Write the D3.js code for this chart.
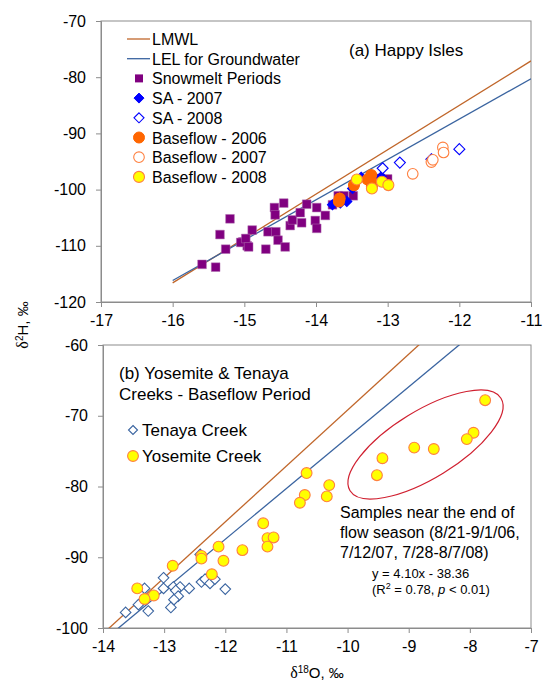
<!DOCTYPE html>
<html>
<head>
<meta charset="utf-8">
<script src="https://cdn.jsdelivr.net/npm/d3@7"></script>
<style>
  html, body { margin: 0; padding: 0; background: #fff; }
  svg { display: block; font-family: "Liberation Sans", Arial, sans-serif; }
</style>
</head>
<body>
<svg id="chart" width="544" height="684"></svg>
<script>
// ---- Panel (a): Happy Isles ----
const xTicksA = [-17, -16, -15, -14, -13, -12, -11];
const yTicksA = [-120, -110, -100, -90, -80, -70];

// meteoric water line and evaporation line: [slope, intercept]
const lmwlCoef = [7.9, 9.8];
const lelCoef = [7.18, -1.3];
const lineRangeA = [-16, -11];

const snowmeltO = [-15.59, -15.40, -15.20, -15.34, -15.26, -15.02, -14.96, -14.89, -15.05, -14.98, -14.94, -14.70, -14.67, -14.56, -14.53, -14.43, -14.58, -14.57, -14.45, -14.36, -14.33, -14.20, -14.22, -14.13, -13.99, -14.01, -13.99, -13.87, -13.77, -13.69, -13.61, -13.48, -13.00, -13.10];
const snowmeltH = [-113.3, -113.8, -105.2, -108.0, -110.6, -109.3, -110.0, -107.2, -109.4, -108.7, -110.2, -110.6, -107.5, -107.5, -109.0, -110.2, -103.2, -104.5, -102.4, -106.4, -105.4, -105.9, -104.1, -102.6, -103.2, -105.5, -106.9, -104.6, -102.7, -101.1, -101.1, -101.1, -98.1, -98.0];

const sa2007O = [-13.77, -13.66, -13.57, -13.49, -13.37, -13.09];
const sa2007H = [-102.7, -102.4, -102.1, -99.8, -97.8, -97.7];

const sa2008O = [-13.07, -12.83, -12.39, -12.00];
const sa2008H = [-96.2, -95.2, -94.6, -92.8];

const base2006O = [-13.67, -13.68, -13.47, -13.23, -13.23, -13.22, -13.28];
const base2006H = [-101.6, -102.1, -99.2, -97.4, -98.6, -99.4, -98.2];

const base2007O = [-12.65, -12.39, -12.37, -12.23, -12.22];
const base2007H = [-97.2, -95.1, -94.7, -92.5, -93.4];

const base2008O = [-13.43, -13.22, -13.08, -12.99];
const base2008H = [-98.2, -99.8, -98.6, -99.2];

// ---- Panel (b): Yosemite & Tenaya Creeks ----
const xTicksB = [-14, -13, -12, -11, -10, -9, -8, -7];
const yTicksB = [-100, -90, -80, -70, -60];
const lineRangeB = [-14.5, -7];

const tenayaO = [-13.01, -13.32, -13.01, -12.85, -12.74, -12.59, -12.81, -12.77, -12.84, -12.89, -13.26, -13.42, -13.63, -12.41, -12.39, -12.33, -12.25, -12.17, -12.00];
const tenayaH = [-92.9, -94.4, -94.4, -94.2, -94.2, -94.4, -94.7, -95.5, -96.0, -97.1, -97.6, -96.7, -97.8, -89.6, -93.5, -93.1, -93.7, -93.1, -94.5];

const yosemiteO = [-7.75, -7.94, -8.05, -8.59, -8.91, -9.43, -9.52, -10.67, -10.30, -10.70, -10.34, -10.78, -11.38, -11.31, -11.21, -11.31, -11.72, -12.11, -12.03, -12.39, -12.39, -12.22, -12.86, -13.44, -13.17, -13.32];
const yosemiteH = [-67.8, -72.4, -73.3, -74.7, -74.5, -76.0, -78.4, -78.1, -79.8, -81.2, -81.4, -82.3, -85.2, -87.3, -87.2, -88.5, -89.0, -88.5, -90.5, -89.8, -90.2, -92.4, -91.2, -94.4, -95.4, -95.9];

const legendA = ["LMWL", "LEL for Groundwater", "Snowmelt Periods", "SA - 2007", "SA - 2008", "Baseflow - 2006", "Baseflow - 2007", "Baseflow - 2008"];
const legendB = ["Tenaya Creek", "Yosemite Creek"];
const noteLines = ["Samples near the end of", "flow season (8/21-9/1/06,", "7/12/07, 7/28-8/7/08)"];
const fitText = "y = 4.10x - 38.36";

const C = {
  axis: "#8c8c8c",
  lmwl: "#c0662a",
  lel: "#3a64a0",
  purple: "#800080",
  blue: "#0000ff",
  orange: "#ff6600",
  orangeLine: "#ff8040",
  yellow: "#ffff00",
  tenaya: "#3a64a0",
  ellipse: "#d02030"
};

const svg = d3.select("#chart");
const zip = (a, b) => a.map((v, i) => [v, b[i]]);
const plain = d => String(d);   // hyphen-minus labels

function panel(id, box, xDom, yDom, xTicks, yTicks) {
  const x = d3.scaleLinear().domain(xDom).range([box.l, box.r]);
  const y = d3.scaleLinear().domain(yDom).range([box.b, box.t]);
  const g = svg.append("g");
  g.append("clipPath").attr("id", id)
    .append("rect").attr("x", box.l).attr("y", box.t)
    .attr("width", box.r - box.l).attr("height", box.b - box.t);
  // frame
  g.append("rect").attr("x", box.l).attr("y", box.t)
    .attr("width", box.r - box.l).attr("height", box.b - box.t)
    .attr("fill", "none").attr("stroke", C.axis).attr("stroke-width", 1);
  const xa = g.append("g").attr("transform", `translate(0,${box.b})`)
    .call(d3.axisBottom(x).tickValues(xTicks).tickSize(5).tickPadding(8).tickFormat(plain));
  const ya = g.append("g").attr("transform", `translate(${box.l},0)`)
    .call(d3.axisLeft(y).tickValues(yTicks).tickSize(5).tickPadding(10).tickFormat(plain));
  [xa, ya].forEach(a => {
    a.select(".domain").attr("stroke", C.axis);
    a.selectAll(".tick line").attr("stroke", C.axis);
    a.selectAll(".tick text").attr("fill", "#000").style("font-size", "16px")
      .style("font-family", "'Liberation Sans', Arial, sans-serif");
  });
  const plot = g.append("g").attr("clip-path", `url(#${id})`);
  return { x, y, g, plot };
}

function drawLine(p, coef, range, color) {
  const pts = range.map(v => [v, coef[0] * v + coef[1]]);
  p.plot.append("path")
    .attr("d", d3.line().x(d => p.x(d[0])).y(d => p.y(d[1]))(pts))
    .attr("fill", "none").attr("stroke", color).attr("stroke-width", 1.3);
}

// rotated-square marker path of half-diagonal r
const diamondPath = r => `M0,${-r}L${r},0L0,${r}L${-r},0Z`;
const squarePath = d3.symbol().type(d3.symbolSquare).size(76)();

function squares(p, xs, ys) {
  p.plot.append("g").selectAll("path").data(zip(xs, ys)).join("path")
    .attr("d", squarePath)
    .attr("transform", d => `translate(${p.x(d[0])},${p.y(d[1])})`)
    .attr("fill", C.purple).attr("stroke", "#b070b0").attr("stroke-width", 0.5);
}
function diamonds(p, xs, ys, fill, stroke, r) {
  p.plot.append("g").selectAll("path").data(zip(xs, ys)).join("path")
    .attr("d", diamondPath(r))
    .attr("transform", d => `translate(${p.x(d[0])},${p.y(d[1])})`)
    .attr("fill", fill).attr("stroke", stroke).attr("stroke-width", 1.1);
}
function circles(p, xs, ys, fill, stroke, r) {
  p.plot.append("g").selectAll("circle").data(zip(xs, ys)).join("circle")
    .attr("cx", d => p.x(d[0])).attr("cy", d => p.y(d[1]))
    .attr("r", r).attr("fill", fill).attr("stroke", stroke).attr("stroke-width", 1.1);
}

// ---- draw panel (a) ----
const pa = panel("clipA", { l: 101, r: 531, t: 21, b: 302 }, [-17, -11], [-120, -70], xTicksA, yTicksA);
drawLine(pa, lmwlCoef, lineRangeA, C.lmwl);
drawLine(pa, lelCoef, lineRangeA, C.lel);
squares(pa, snowmeltO, snowmeltH);
diamonds(pa, sa2007O, sa2007H, C.blue, C.blue, 5);
diamonds(pa, sa2008O, sa2008H, "#fff", C.blue, 5.5);
circles(pa, base2007O, base2007H, "#fff", C.orangeLine, 5.3);
circles(pa, base2006O, base2006H, C.orange, C.orange, 5.5);
circles(pa, base2008O, base2008H, C.yellow, C.orangeLine, 5.5);

pa.g.append("text").attr("x", 349).attr("y", 56).text("(a) Happy Isles")
  .style("font-size", "17px").attr("fill", "#000");

// legend (a)
const legA = pa.g.append("g");
const lx = 139, ltx = 152, ly0 = 39, ldy = 19.7;
legendA.forEach((name, i) => {
  const cy = ly0 + i * ldy;
  legA.append("text").attr("x", ltx).attr("y", cy + 6).text(name)
    .style("font-size", "16px").attr("fill", "#000");
});
legA.append("line").attr("x1", 127).attr("x2", 150).attr("y1", ly0).attr("y2", ly0).attr("stroke", C.lmwl).attr("stroke-width", 1.3);
legA.append("line").attr("x1", 127).attr("x2", 150).attr("y1", ly0 + ldy).attr("y2", ly0 + ldy).attr("stroke", C.lel).attr("stroke-width", 1.3);
legA.append("path").attr("d", d3.symbol().type(d3.symbolSquare).size(64)()).attr("transform", `translate(${lx},${ly0 + 2 * ldy})`).attr("fill", C.purple);
legA.append("path").attr("d", diamondPath(5)).attr("transform", `translate(${lx},${ly0 + 3 * ldy})`).attr("fill", C.blue).attr("stroke", C.blue);
legA.append("path").attr("d", diamondPath(5)).attr("transform", `translate(${lx},${ly0 + 4 * ldy})`).attr("fill", "#fff").attr("stroke", C.blue).attr("stroke-width", 1.1);
legA.append("circle").attr("cx", lx).attr("cy", ly0 + 5 * ldy).attr("r", 5.5).attr("fill", C.orange).attr("stroke", C.orange);
legA.append("circle").attr("cx", lx).attr("cy", ly0 + 6 * ldy).attr("r", 5.3).attr("fill", "#fff").attr("stroke", C.orangeLine).attr("stroke-width", 1.1);
legA.append("circle").attr("cx", lx).attr("cy", ly0 + 7 * ldy).attr("r", 5.5).attr("fill", C.yellow).attr("stroke", C.orangeLine).attr("stroke-width", 1.1);

// ---- draw panel (b) ----
const pb = panel("clipB", { l: 103, r: 531, t: 345, b: 628 }, [-14, -7], [-100, -60], xTicksB, yTicksB);
drawLine(pb, lmwlCoef, lineRangeB, C.lmwl);
drawLine(pb, lelCoef, lineRangeB, C.lel);
diamonds(pb, tenayaO, tenayaH, "#fff", C.tenaya, 5.3);
circles(pb, yosemiteO, yosemiteH, C.yellow, C.orangeLine, 5.4);

// ellipse around late-season samples
pb.g.append("ellipse").attr("cx", 425.5).attr("cy", 444.5).attr("rx", 88.5).attr("ry", 33.7)
  .attr("transform", "rotate(-31.5,425.5,444.5)")
  .attr("fill", "none").attr("stroke", C.ellipse).attr("stroke-width", 1.2);

const tb = pb.g.append("text").attr("x", 119).attr("y", 379).style("font-size", "17px").attr("fill", "#000");
tb.append("tspan").attr("x", 119).attr("dy", 0).text("(b) Yosemite & Tenaya");
tb.append("tspan").attr("x", 119).attr("dy", 21).text("Creeks - Baseflow Period");

// legend (b)
const legB = pb.g.append("g");
legB.append("path").attr("d", diamondPath(4.5)).attr("transform", `translate(133,430)`).attr("fill", "#fff").attr("stroke", C.tenaya).attr("stroke-width", 1.1);
legB.append("circle").attr("cx", 133).attr("cy", 456).attr("r", 5.4).attr("fill", C.yellow).attr("stroke", C.orangeLine).attr("stroke-width", 1.1);
legendB.forEach((name, i) => {
  legB.append("text").attr("x", 142).attr("y", 436 + i * 26).text(name)
    .style("font-size", "17px").attr("fill", "#000");
});

// annotation
const note = pb.g.append("text").attr("x", 340).attr("y", 518).style("font-size", "16px").attr("fill", "#000");
noteLines.forEach((t, i) => note.append("tspan").attr("x", 340).attr("dy", i === 0 ? 0 : 20).text(t));

pb.g.append("text").attr("x", 372).attr("y", 578).text(fitText).style("font-size", "13px").attr("fill", "#000");
const r2 = pb.g.append("text").attr("x", 372).attr("y", 594).style("font-size", "13px").attr("fill", "#000");
r2.append("tspan").text("(R");
r2.append("tspan").attr("baseline-shift", "super").style("font-size", "9px").text("2");
r2.append("tspan").text(" = 0.78, ");
r2.append("tspan").style("font-style", "italic").text("p");
r2.append("tspan").text(" < 0.01)");

// axis titles
const xt = svg.append("text").attr("x", 317).attr("y", 678).attr("text-anchor", "middle").style("font-size", "15px").attr("fill", "#000");
xt.append("tspan").style("font-family", "'Liberation Serif', 'Times New Roman', serif").style("font-size", "16px").text("δ");
xt.append("tspan").attr("baseline-shift", "super").style("font-size", "10px").text("18");
xt.append("tspan").text("O, ‰");

const yt = svg.append("text").attr("transform", "translate(28,325) rotate(-90)").attr("text-anchor", "middle").style("font-size", "15px").attr("fill", "#000");
yt.append("tspan").style("font-family", "'Liberation Serif', 'Times New Roman', serif").style("font-size", "16px").text("δ");
yt.append("tspan").attr("baseline-shift", "super").style("font-size", "10px").text("2");
yt.append("tspan").text("H, ‰");
</script>
</body>
</html>
